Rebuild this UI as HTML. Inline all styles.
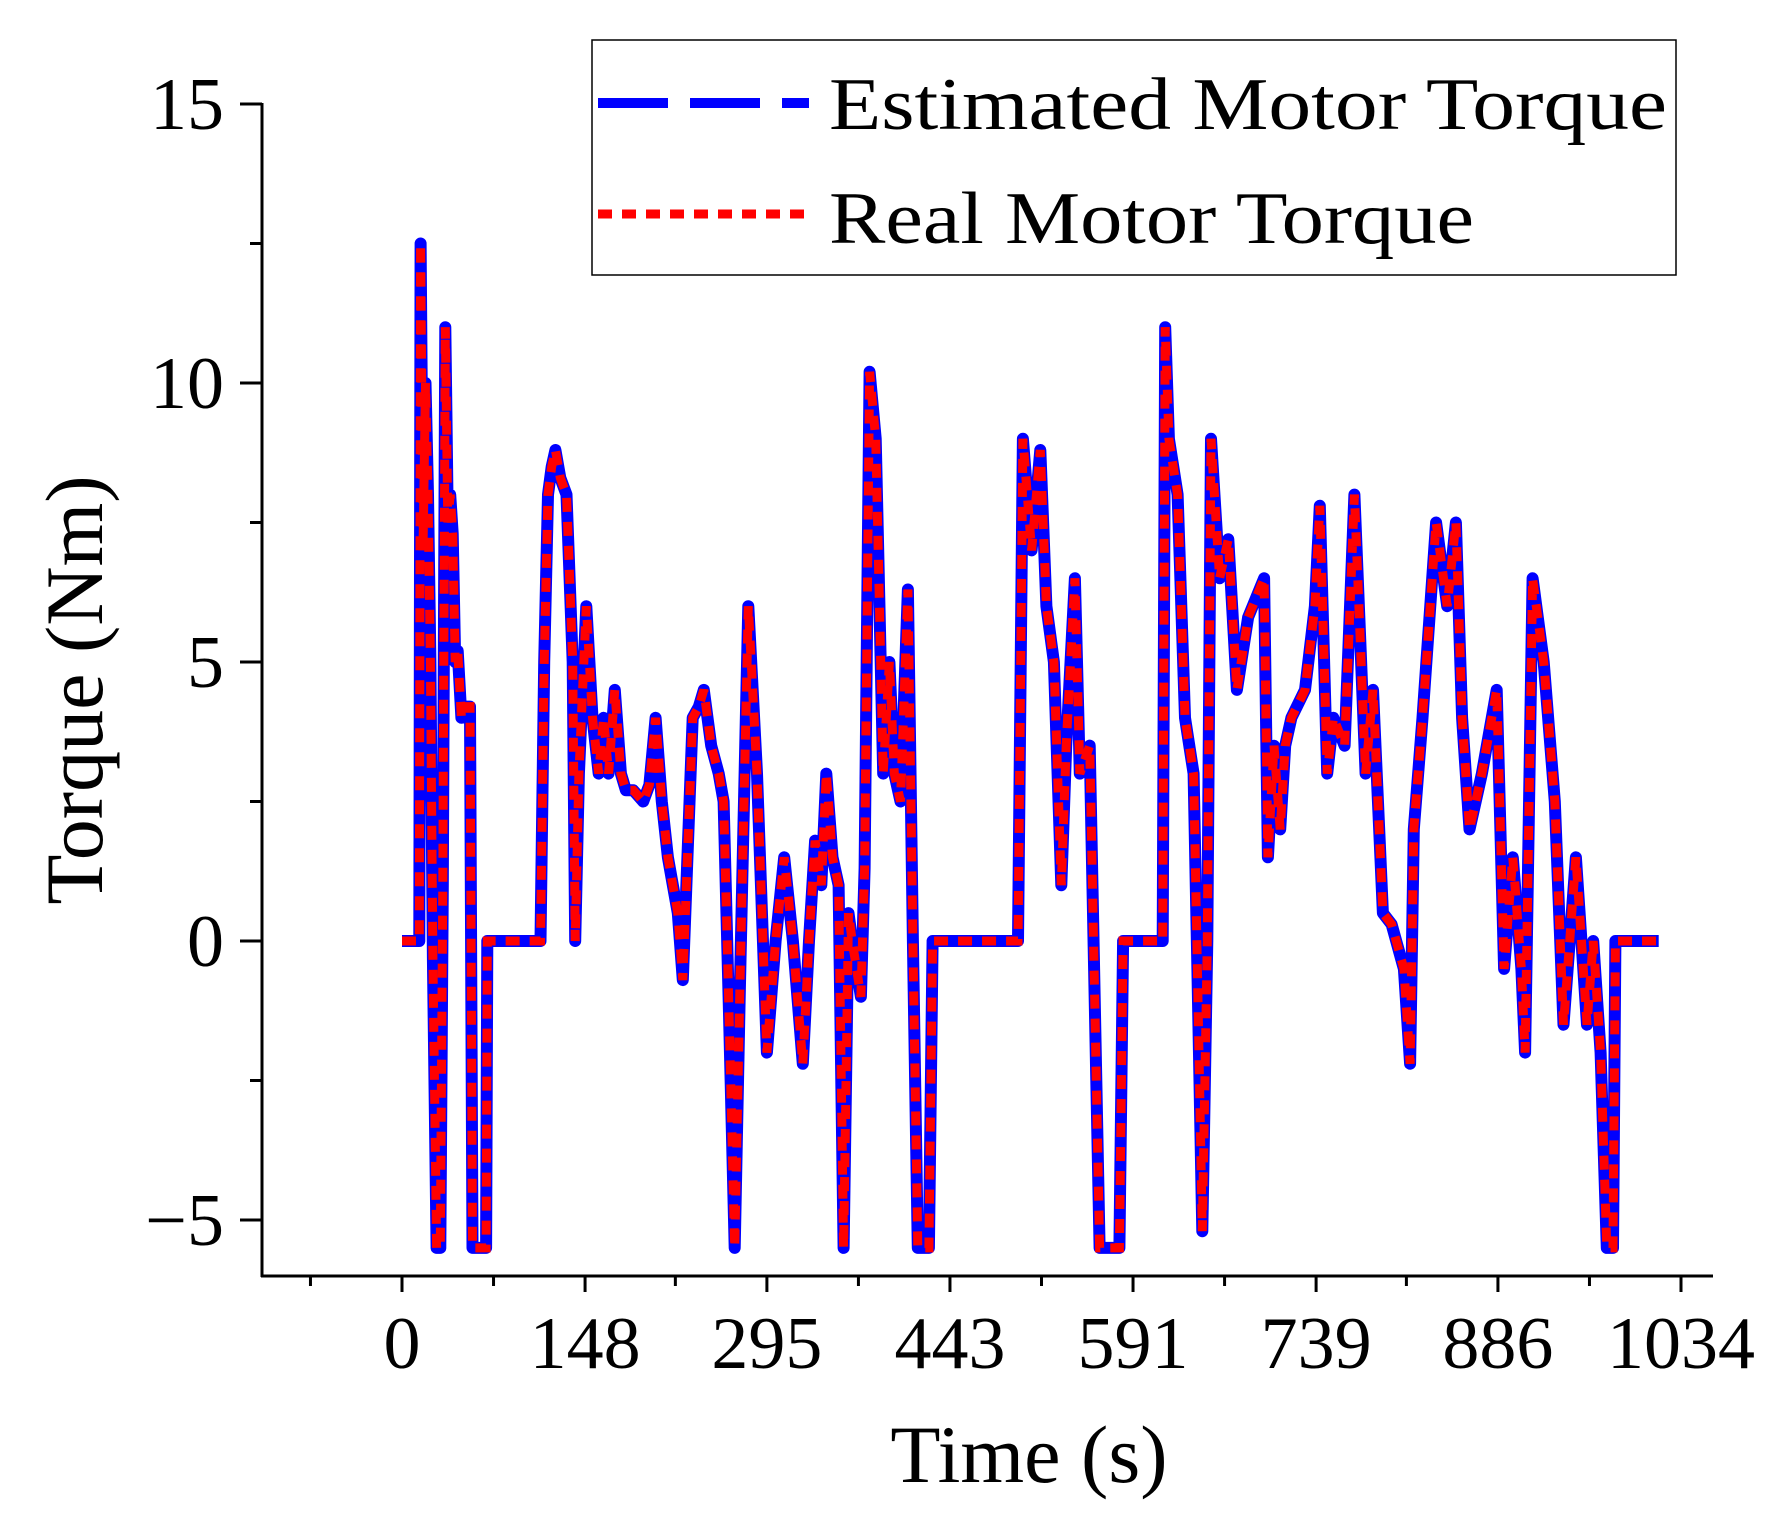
<!DOCTYPE html>
<html><head><meta charset="utf-8"><style>
html,body{margin:0;padding:0;background:#fff;}
svg{display:block;font-family:"Liberation Serif",serif;}
</style></head><body>
<svg id="chart" width="1787" height="1520" viewBox="0 0 1787 1520" xmlns="http://www.w3.org/2000/svg">
<g id="axes"></g>
<g id="series"></g>
<g id="legend">
<rect x="592" y="40" width="1084" height="235" fill="#fff" stroke="#000" stroke-width="1.5"/>
<line x1="598" y1="103" x2="809" y2="103" stroke="#0000ff" stroke-width="10" stroke-dasharray="70,22"/>
<text x="829" y="129" font-size="74" textLength="838" lengthAdjust="spacingAndGlyphs">Estimated Motor Torque</text>
<line x1="598" y1="214" x2="809" y2="214" stroke="#ff0000" stroke-width="9" stroke-dasharray="14,10"/>
<text x="829" y="243" font-size="74" textLength="645" lengthAdjust="spacingAndGlyphs">Real Motor Torque</text>
</g>
<text x="1029" y="1482" font-size="82" text-anchor="middle">Time (s)</text>
<text x="0" y="0" font-size="82" text-anchor="middle" transform="translate(102,690) rotate(-90)">Torque (Nm)</text>
</svg>
<script>
const times = [
0,14,15,17,19,21,23,25,28,31,33,35,37,39,41,43,45,48,52,55,57,68,69,
112,115,118,121,124,128,133,138,140,143,149,154,159,163,167,172,177,181,187,195,200,205,210,215,223,227,235,240,244,250,256,260,264,269,273,280,287,295,302,309,316,324,329,334,339,343,348,353,357,361,364,371,374,378,383,389,394,398,403,409,413,417,426,429,
498,502,509,516,521,527,533,537,544,548,556,564,580,583,
615,617,620,627,633,640,643,647,651,654,661,668,675,684,697,700,705,710,714,719,730,738,742,748,753,762,770,779,785,793,800,810,815,818,825,836,845,852,857,863,873,885,891,898,905,908,914,923,932,939,949,958,963,969,974,979,981,1016];
const torque = [
0,0,12.5,7,10,8,5,-0.3,-5.5,-5.5,1,11,7.5,8,7.3,5,5.2,4,4.2,4.2,-5.5,-5.5,0,
0,5,8,8.5,8.8,8.3,8,5,0,3,6,4,3,4,3,4.5,3,2.7,2.7,2.5,2.8,4,2.5,1.5,0.5,-0.7,4,4.2,4.5,3.5,3,2.5,-1,-5.5,-1,6,3,-2,0,1.5,0,-2.2,0,1.8,1,3,1.5,1,-5.5,0.5,0,-1,1.3,10.2,9,3,5,3,2.5,6.3,0,-5.5,-5.5,0,
0,9,7,8.8,6,5,1,3.5,6.5,3,3.5,-5.5,-5.5,0,
0,11,9,8,4,3,-0.5,-5.2,0,9,6.5,7.2,4.5,5.8,6.5,1.5,3.5,2,3.5,4,4.5,6,7.8,3,4,3.5,8,3,4.5,0.5,0.3,-0.5,-2.2,2,4,7.5,6,7.5,4,2,3,4.5,-0.5,1.5,-0.5,-2,6.5,5,2.5,-1.5,1.5,-1.5,0,-2,-5.5,-5.5,0,0];
const xTicks = [0,148,295,443,591,739,886,1034];
const yTicks = [15,10,5,0,-5];
const X0=402, X1=1681, Y0=941, Ym5=1220;
function xs(t){return X0+t*(X1-X0)/1034;}
function ys(v){return Y0-v*(Ym5-Y0)/5;}
const NS="http://www.w3.org/2000/svg";
const axes=document.getElementById('axes');
function mk(tag,attrs,parent){const e=document.createElementNS(NS,tag);for(const k in attrs)e.setAttribute(k,attrs[k]);parent.appendChild(e);return e;}
let l=mk('line',{x1:262,y1:103,x2:262,y2:1277,stroke:'#000','stroke-width':3},axes);


l=mk('line',{x1:261,y1:1276,x2:1713,y2:1276,stroke:'#000','stroke-width':3},axes);


xTicks.forEach(t=>{
 const x=xs(t);
 let tk=mk('line',{x1:x,y1:1276,x2:x,y2:1292,stroke:'#000','stroke-width':3},axes);
 
 
 let tx=mk('text',{x:x,y:1368,'font-size':74,'text-anchor':'middle'},axes);
 tx.textContent=t;
 
 
 const mx=xs(t-74);
 let m=mk('line',{x1:mx,y1:1276,x2:mx,y2:1286,stroke:'#000','stroke-width':3},axes);
 
 
});
yTicks.forEach(v=>{
 const y=ys(v);
 let tk=mk('line',{x1:240,y1:y,x2:262,y2:y,stroke:'#000','stroke-width':3},axes);
 
 
 let tx=mk('text',{x:224,y:y+25,'font-size':74,'text-anchor':'end'},axes);
 tx.textContent=(v<0?'\u2212':'')+Math.abs(v);
 
 
 if(v>-5){const my=ys(v-2.5);
 let m=mk('line',{x1:250,y1:my,x2:262,y2:my,stroke:'#000','stroke-width':3},axes);
 
 }
});
const series=document.getElementById('series');
const n=Math.min(times.length,torque.length);
let d='';
for(let i=0;i<n;i++){d+=(i?'L':'M')+xs(times[i]).toFixed(1)+','+ys(torque[i]).toFixed(1)+' ';}
let p1=mk('path',{d:d,fill:'none',stroke:'#0000ff','stroke-width':12,'stroke-linejoin':'round'},series);


let p2=mk('path',{d:d,fill:'none',stroke:'#ff0000','stroke-width':9,'stroke-dasharray':'14,10'},series);


</script>
</body></html>
